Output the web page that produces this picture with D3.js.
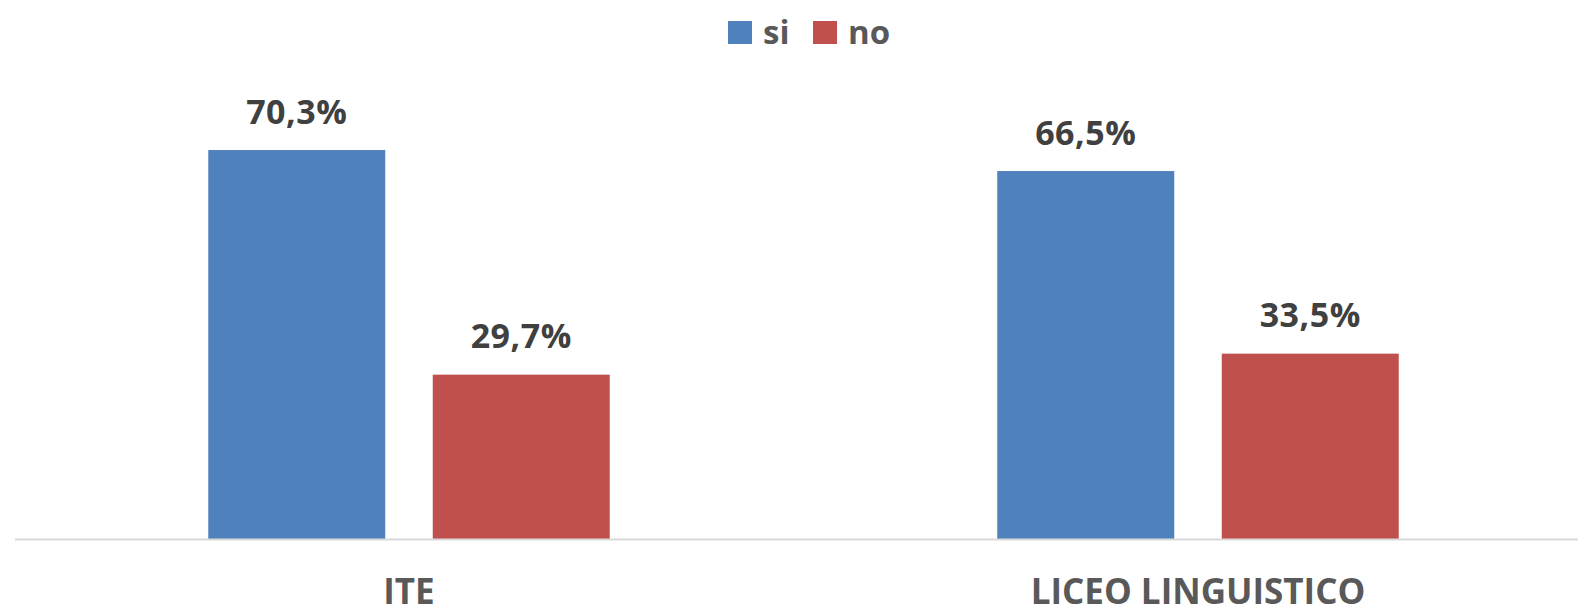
<!DOCTYPE html>
<html>
<head>
<meta charset="utf-8">
<script src="https://cdn.jsdelivr.net/npm/d3@7"></script>
<style>
  body { margin: 0; background: #fff; }
  svg { display: block; font-family: "Open Sans", sans-serif; }
</style>
</head>
<body>
<svg width="1578" height="607"></svg>
<script>
const categories = ["ITE", "LICEO LINGUISTICO"];
const series = ["si", "no"];
const siValues = [70.3, 66.5];
const noValues = [29.7, 33.5];
const colors = ["#4F81BD", "#C0504D"];

const svg = d3.select("svg");
const baseY = 539;

// plot spans a bit past the right edge, like the original
const x0 = d3.scaleBand().domain(categories).range([14.5, 1592.5]).paddingInner(0).paddingOuter(0);
const x1 = d3.scaleBand().domain(series).range([193.75, 789 - 193.75]).paddingInner(47.5 / 224.5);
const y = d3.scaleLinear().domain([0, 80]).range([baseY, baseY - 80 * 5.533]);

const rows = categories.map((c, i) => ({cat: c, vals: [siValues[i], noValues[i]]}));

const groups = svg.selectAll(".grp")
  .data(rows)
  .enter()
  .append("g")
  .attr("class", "grp")
  .attr("transform", d => "translate(" + x0(d.cat) + ",0)");

const bars = groups.selectAll("g.bar")
  .data(d => d.vals.map((v, j) => ({key: series[j], v: v, j: j})))
  .enter()
  .append("g")
  .attr("class", "bar");

bars.append("rect")
  .attr("x", d => x1(d.key))
  .attr("y", d => y(d.v))
  .attr("width", x1.bandwidth())
  .attr("height", d => y(0) - y(d.v))
  .attr("fill", d => colors[d.j]);

bars.append("text")
  .attr("x", d => x1(d.key) + x1.bandwidth() / 2)
  .attr("y", d => y(d.v) - 26.5)
  .attr("text-anchor", "middle")
  .attr("font-size", "34px")
  .attr("font-weight", "bold")
  .attr("letter-spacing", "0.5px")
  .attr("fill", "#404040")
  .text(d => d.v.toFixed(1).replace(".", ",") + "%");

// baseline
svg.append("line")
  .attr("x1", 15).attr("x2", 1578)
  .attr("y1", baseY + 0.5).attr("y2", baseY + 0.5)
  .attr("stroke", "#D9D9D9")
  .attr("stroke-width", 2);

// category labels
svg.selectAll(".cat")
  .data(categories)
  .enter()
  .append("text")
  .attr("class", "cat")
  .attr("x", d => x0(d) + x0.bandwidth() / 2)
  .attr("y", 604)
  .attr("text-anchor", "middle")
  .attr("font-size", "35px")
  .attr("font-weight", "bold")
  .attr("fill", "#595959")
  .text(d => d);

// legend
const legend = svg.append("g").attr("id", "legend");
const legendX = [728, 813];
series.forEach((s, i) => {
  legend.append("rect")
    .attr("x", legendX[i]).attr("y", 21)
    .attr("width", 24).attr("height", 23)
    .attr("fill", colors[i]);
  legend.append("text")
    .attr("x", legendX[i] + 35).attr("y", 44)
    .attr("font-size", "33px")
    .attr("font-weight", "bold")
    .attr("fill", "#595959")
    .text(s);
});
</script>
</body>
</html>
